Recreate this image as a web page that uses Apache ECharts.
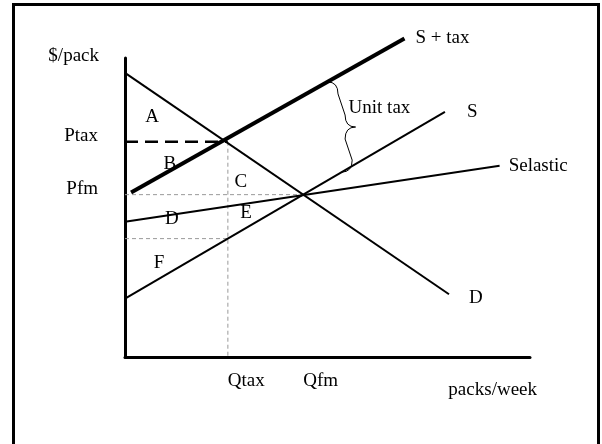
<!DOCTYPE html>
<html>
<head>
<meta charset="utf-8">
<script src="https://cdn.jsdelivr.net/npm/echarts@6/dist/echarts.min.js"></script>
<style>
  html, body { margin: 0; padding: 0; background: #fff; }
  #chart { width: 602px; height: 444px; }
</style>
</head>
<body>
<div id="chart"></div>
<script>
// quantities and prices (packs/week, $/pack)
var qTax = 25.4;
var qFm = 44.0;
var pTax = 7.2;
var pFm = 5.43;

var quantityTicks = [qTax, qFm];
var quantityNames = ['Qtax', 'Qfm'];
var priceTicks = [pFm, pTax];
var priceNames = ['Pfm', 'Ptax'];

// curves, two end points each
var demand = [[0, 9.5], [80, 2.1]];
var supply = [[0, 1.95], [79, 8.2]];
var supplyTax = [[1.5, 5.5], [69, 10.65]];
var supplyElastic = [[0, 4.52], [92.5, 6.4]];

// unit tax brace: from S + tax down to S
var braceQ = [50, 53.5];

// area letters [name, q, p]
var areaLabels = [
    ['A', 6.7, 8.03],
    ['B', 11.1, 6.45],
    ['C', 28.6, 5.85],
    ['D', 11.6, 4.62],
    ['E', 29.9, 4.82],
    ['F', 8.4, 3.14]
];

var FONT = "'Liberation Serif', 'Times New Roman', serif";

function lineAt(line, q) {
    var a = line[0], b = line[1];
    return a[1] + (b[1] - a[1]) * (q - a[0]) / (b[0] - a[0]);
}

function curve(name, data, width, labelDist, labelDy) {
    return {
        name: name,
        type: 'line',
        data: data,
        symbol: 'none',
        clip: false,
        lineStyle: { color: '#000', width: width },
        endLabel: {
            show: true,
            formatter: '{a}',
            color: '#000',
            fontFamily: FONT,
            fontSize: 19,
            distance: labelDist,
            offset: [0, labelDy]
        },
        emphasis: { disabled: true },
        z: 3
    };
}

function dashed(data, color, width, dash) {
    return {
        type: 'line',
        data: data,
        symbol: 'none',
        clip: false,
        lineStyle: { color: color, width: width, type: dash },
        emphasis: { disabled: true },
        z: 2
    };
}

var myChart = echarts.init(document.getElementById('chart'));

var option = {
    animation: false,
    backgroundColor: '#fff',
    textStyle: { fontFamily: FONT },
    grid: { left: 125, right: 72, top: 58, bottom: 87 },
    graphic: [{
        type: 'rect',
        shape: { x: 13.5, y: 4.5, width: 585, height: 470 },
        style: { fill: 'none', stroke: '#000', lineWidth: 3 },
        silent: true
    }],
    xAxis: {
        type: 'value',
        min: 0,
        max: 100,
        name: 'packs/week',
        nameLocation: 'end',
        nameGap: 7,
        nameTextStyle: {
            color: '#000', fontFamily: FONT, fontSize: 19,
            align: 'right', verticalAlign: 'top', padding: [24, 0, 0, 0]
        },
        axisLine: { lineStyle: { color: '#000', width: 3 } },
        axisTick: { show: false },
        splitLine: { show: false },
        axisLabel: {
            customValues: quantityTicks,
            formatter: function (v) {
                return quantityNames[quantityTicks.indexOf(v)];
            },
            color: '#000', fontFamily: FONT, fontSize: 19,
            align: 'left', margin: 15
        }
    },
    yAxis: {
        type: 'value',
        min: 0,
        max: 10,
        name: '$/pack',
        nameLocation: 'end',
        nameGap: -8,
        nameTextStyle: {
            color: '#000', fontFamily: FONT, fontSize: 19,
            align: 'right', verticalAlign: 'bottom', padding: [0, 26, 0, 0]
        },
        axisLine: { lineStyle: { color: '#000', width: 3 } },
        axisTick: { show: false },
        splitLine: { show: false },
        axisLabel: {
            customValues: priceTicks,
            formatter: function (v) {
                return priceNames[priceTicks.indexOf(v)];
            },
            color: '#000', fontFamily: FONT, fontSize: 19,
            verticalAlign: 'bottom', lineHeight: 11, margin: 27
        }
    },
    series: [
        dashed([[0, pTax], [qTax, pTax]], '#000', 2.5, [13, 7]),
        dashed([[0, pFm], [qFm, pFm]], '#999', 1, [4, 3]),
        dashed([[0, lineAt(supply, qTax)], [qTax, lineAt(supply, qTax)]], '#999', 1, [4, 3]),
        dashed([[qTax, pTax], [qTax, 0]], '#999', 1, [4, 3]),
        curve('D', demand, 2, 20, 4),
        curve('S', supply, 2, 22, 0),
        curve('S + tax', supplyTax, 4, 11, -1),
        curve('Selastic', supplyElastic, 2, 9, 0),
        {
            type: 'custom',
            data: [0],
            z: 4,
            renderItem: function (params, api) {
                var top = api.coord([braceQ[0], lineAt(supplyTax, braceQ[0])]);
                var bot = api.coord([braceQ[1], lineAt(supply, braceQ[1])]);
                var w = 21, r = 12;
                var xm = (top[0] + bot[0]) / 2, ym = (top[1] + bot[1]) / 2;
                var h = w / 2;
                var d = 'M' + top[0] + ',' + top[1]
                    + ' Q' + (top[0] + h) + ',' + top[1] + ' ' + (top[0] + h) + ',' + (top[1] + r)
                    + ' L' + (xm + h) + ',' + (ym - r)
                    + ' Q' + (xm + h) + ',' + ym + ' ' + (xm + w) + ',' + ym
                    + ' Q' + (xm + h) + ',' + ym + ' ' + (xm + h) + ',' + (ym + r)
                    + ' L' + (bot[0] + h) + ',' + (bot[1] - r)
                    + ' Q' + (bot[0] + h) + ',' + bot[1] + ' ' + bot[0] + ',' + bot[1];
                return {
                    type: 'group',
                    children: [{
                        type: 'path',
                        shape: { pathData: d },
                        style: { fill: 'none', stroke: '#000', lineWidth: 1 }
                    }, {
                        type: 'text',
                        x: xm + 14,
                        y: ym - 19,
                        style: {
                            text: 'Unit tax', fill: '#000',
                            font: '19px ' + FONT,
                            align: 'left', verticalAlign: 'middle'
                        }
                    }]
                };
            }
        },
        {
            type: 'scatter',
            symbolSize: 0,
            itemStyle: { opacity: 1 },
            emphasis: { disabled: true },
            data: areaLabels.map(function (item) {
                return { name: item[0], value: [item[1], item[2]] };
            }),
            label: {
                show: true,
                position: 'inside',
                formatter: '{b}',
                color: '#000',
                opacity: 1,
                fontFamily: FONT,
                fontSize: 19
            },
            z: 1
        }
    ]
};

myChart.setOption(option);
</script>
</body>
</html>
